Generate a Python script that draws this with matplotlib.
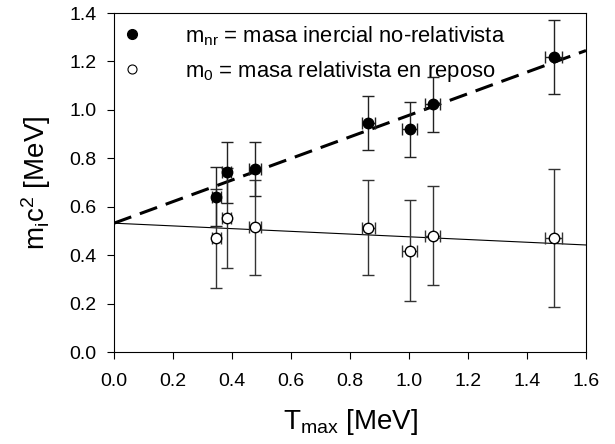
import matplotlib
matplotlib.use('Agg')
import matplotlib.pyplot as plt
from matplotlib.lines import Line2D

# --- datos ---
t_max = [0.347, 0.382, 0.478, 0.862, 1.002, 1.080, 1.490]
t_err = [0.015, 0.015, 0.020, 0.023, 0.025, 0.025, 0.030]

m_nr = [0.642, 0.743, 0.756, 0.945, 0.919, 1.023, 1.218]
m_nr_err = [0.121, 0.126, 0.113, 0.111, 0.112, 0.114, 0.152]

m_0 = [0.470, 0.553, 0.515, 0.514, 0.419, 0.481, 0.472]
m_0_err = [0.204, 0.207, 0.197, 0.198, 0.207, 0.206, 0.285]

# rectas de ajuste (extremos)
fit_x = [0.0, 1.6]
fit_nr = [0.532, 1.245]
fit_0 = [0.532, 0.442]

plt.rcParams['font.family'] = ['Liberation Sans', 'DejaVu Sans']
plt.rcParams['mathtext.fontset'] = 'custom'
plt.rcParams['mathtext.rm'] = 'Liberation Sans'
plt.rcParams['mathtext.it'] = 'Liberation Sans:italic'

fig = plt.figure(figsize=(6.15, 4.44), dpi=100)
ax = fig.add_axes([0.1854, 0.2072, 0.7674, 0.7635])

ax.plot(fit_x, fit_nr, color='black', linestyle=(0, (6, 3)), linewidth=2.2, zorder=2)
ax.plot(fit_x, fit_0, color='black', linewidth=0.8, zorder=2)

ax.errorbar(t_max, m_0, yerr=m_0_err, xerr=t_err, fmt='o', markersize=7.5,
            markerfacecolor='white', markeredgecolor='black', markeredgewidth=1,
            ecolor='#333333', elinewidth=1, capsize=4.5, capthick=1, zorder=3)
ax.errorbar(t_max, m_nr, yerr=m_nr_err, xerr=t_err, fmt='o', markersize=7.5,
            markerfacecolor='black', markeredgecolor='black',
            ecolor='#222222', elinewidth=1, capsize=4.5, capthick=1, zorder=4)

ax.set_xlim(0, 1.6)
ax.set_ylim(0, 1.4)
ax.set_xticks([0.0, 0.2, 0.4, 0.6, 0.8, 1.0, 1.2, 1.4, 1.6])
ax.set_yticks([0.0, 0.2, 0.4, 0.6, 0.8, 1.0, 1.2, 1.4])
ax.xaxis.set_major_formatter(matplotlib.ticker.FormatStrFormatter('%.1f'))
ax.yaxis.set_major_formatter(matplotlib.ticker.FormatStrFormatter('%.1f'))
ax.tick_params(direction='out', length=5, width=0.8, labelsize=14)
ax.tick_params(axis='x', pad=10)
ax.tick_params(axis='y', pad=7.5)

for s in ax.spines.values():
    s.set_linewidth(0.8)

ax.set_xlabel(r'$\mathregular{T_{max}}$ [MeV]', fontsize=20, labelpad=12)
ax.set_ylabel(r'$\mathregular{m_ic^2}$ [MeV]', fontsize=20, labelpad=12)

handles = [
    Line2D([], [], marker='o', linestyle='none', markersize=7,
           markerfacecolor='black', markeredgecolor='black'),
    Line2D([], [], marker='o', linestyle='none', markersize=6.5,
           markerfacecolor='white', markeredgecolor='black', markeredgewidth=0.8),
]
labels = [r'$\mathregular{m_{nr}}$ = masa inercial no-relativista',
          r'$\mathregular{m_0}$ = masa relativista en reposo']
ax.legend(handles, labels, loc='upper left', frameon=False, fontsize=15.8,
          handlelength=1.25, handletextpad=1.8, borderpad=0.2,
          borderaxespad=0.0, labelspacing=0.5,
          bbox_to_anchor=(0.0, 0.98))

fig.savefig('out.png', dpi=100)
